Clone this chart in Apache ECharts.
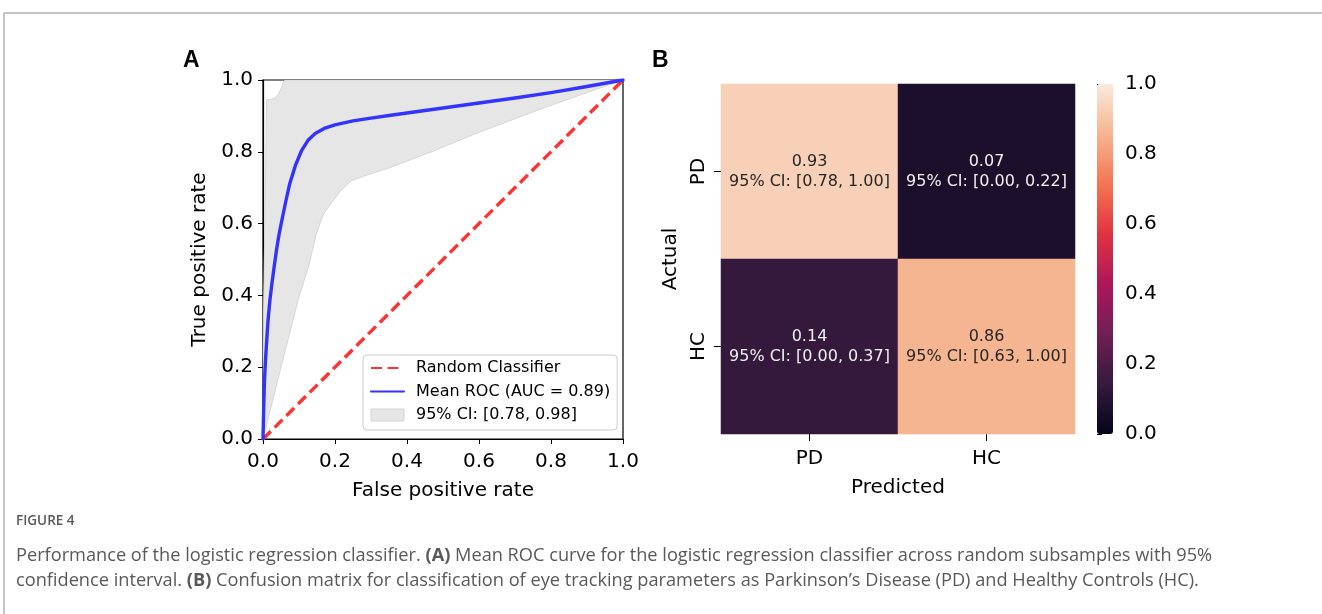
<!DOCTYPE html>
<html>
<head>
<meta charset="utf-8">
<script src="https://cdn.jsdelivr.net/npm/echarts@6/dist/echarts.min.js"></script>
<style>
html,body{margin:0;padding:0;background:#fff;}
#c{width:1322px;height:614px;}
</style>
</head>
<body>
<div id="c"></div>
<script>
// ---- Panel A: ROC data ----
const meanFpr = [0, 0.002, 0.004, 0.007, 0.010, 0.014, 0.019, 0.025, 0.031, 0.038, 0.045, 0.054, 0.064, 0.074, 0.09, 0.107, 0.125, 0.145, 0.17, 0.2, 0.25, 0.3, 0.35, 0.42, 0.5, 0.6, 0.7, 0.8, 0.9, 1.0];
const meanTpr = [0, 0.09, 0.16, 0.22, 0.27, 0.33, 0.385, 0.435, 0.48, 0.53, 0.572, 0.617, 0.665, 0.71, 0.762, 0.803, 0.832, 0.851, 0.865, 0.875, 0.886, 0.894, 0.901, 0.911, 0.922, 0.936, 0.950, 0.965, 0.982, 1.0];
const upperFpr = [0, 0.0101, 0.022, 0.0325, 0.042, 0.051, 0.058, 0.062, 1.0];
const upperTpr = [0.25, 0.945, 0.946, 0.95, 0.959, 0.978, 0.997, 1.0, 1.0];
const lowerFpr = [0, 0.05, 0.097, 0.126, 0.148, 0.165, 0.171, 0.195, 0.216, 0.245, 0.282, 0.35, 0.463, 0.602, 0.787, 1.0];
const lowerTpr = [0, 0.2, 0.386, 0.479, 0.571, 0.62, 0.631, 0.664, 0.692, 0.719, 0.733, 0.755, 0.798, 0.855, 0.925, 1.0];
const chanceFpr = [0, 1];
const chanceTpr = [0, 1];

// ---- Panel B: confusion matrix ----
const predictedCats = ['PD', 'HC'];
const actualCats = ['PD', 'HC'];
const cmValues = [[0.93, 0.07], [0.14, 0.86]];   // rows = actual, cols = predicted
const cmLow = [[0.78, 0.00], [0.00, 0.63]];
const cmHigh = [[1.00, 0.22], [0.37, 1.00]];
const rocket = ['#03051a', '#35193e', '#701f57', '#ad1759', '#e13342', '#f37651', '#f6b48f', '#faebdd'];

const FONT = 'DejaVu Sans';

const meanData = meanFpr.map((x, i) => [x, meanTpr[i]]);
const chanceData = chanceFpr.map((x, i) => [x, chanceTpr[i]]);
const heatData = [];
actualCats.forEach((a, r) => {
  predictedCats.forEach((p, c) => {
    const v = cmValues[r][c];
    heatData.push({
      value: [c, r, v, cmLow[r][c], cmHigh[r][c]],
      label: { color: v > 0.5 ? '#262626' : '#f0f0f0' }
    });
  });
});

const chart = echarts.init(document.getElementById('c'), null, { renderer: 'canvas' });

const capRich = {
  n: { fontFamily: 'Open Sans', fontWeight: 'normal', fontSize: 18.2, color: '#595959' },
  b: { fontFamily: 'Open Sans', fontWeight: 'bold', fontSize: 18.2, color: '#595959' }
};

const option = {
  animation: false,
  backgroundColor: '#ffffff',
  title: [
    { text: 'A', left: 183, top: 49, padding: 0, textStyle: { fontFamily: 'Liberation Sans', fontWeight: 'bold', fontSize: 23, color: '#000' } },
    { text: 'B', left: 652, top: 49, padding: 0, textStyle: { fontFamily: 'Liberation Sans', fontWeight: 'bold', fontSize: 23, color: '#000' } },
    { text: 'FIGURE 4', left: 16, top: 514, padding: 0, textStyle: { fontFamily: 'Open Sans', fontWeight: 600, fontSize: 13.5, color: '#595959' } },
    { text: '{n|Performance of the logistic regression classifier. }{b|(A)}{n| Mean ROC curve for the logistic regression classifier across random subsamples with 95%}',
      left: 16, top: 547, padding: 0, textStyle: { fontWeight: 'normal', rich: capRich } },
    { text: '{n|confidence interval. }{b|(B)}{n| Confusion matrix for classification of eye tracking parameters as Parkinson\u2019s Disease (PD) and Healthy Controls (HC).}',
      left: 16, top: 572, padding: 0, textStyle: { fontWeight: 'normal', rich: capRich } }
  ],
  graphic: [
    { type: 'line', shape: { x1: 4, y1: 13, x2: 1322, y2: 13 }, style: { stroke: '#b0b0b0', lineWidth: 1.5 } },
    { type: 'line', shape: { x1: 4, y1: 13, x2: 4, y2: 614 }, style: { stroke: '#b0b0b0', lineWidth: 1.5 } }
  ],
  legend: {
    orient: 'vertical',
    left: 363, top: 355,
    padding: [5, 7, 7, 7],
    itemGap: 7.5,
    itemWidth: 33,
    itemHeight: 12,
    backgroundColor: 'rgba(255,255,255,0.8)',
    borderColor: '#cccccc',
    borderWidth: 1,
    borderRadius: 4,
    textStyle: { fontFamily: FONT, fontSize: 16, color: '#000', padding: [0, 0, 0, 7] },
    data: [
      { name: 'Random Classifier', itemStyle: { opacity: 0 } },
      { name: 'Mean ROC (AUC = 0.89)', itemStyle: { opacity: 0 } },
      { name: '95% CI: [0.78, 0.98]', icon: 'rect', itemStyle: { color: '#e6e6e6', borderColor: '#d4d4d4', borderWidth: 1 } }
    ]
  },
  visualMap: {
    type: 'continuous',
    min: 0, max: 1,
    dimension: 2,
    seriesIndex: 3,
    calculable: false,
    hoverLink: false,
    left: 1097, top: 84,
    padding: 0,
    itemWidth: 16,
    itemHeight: 350,
    text: null,
    showLabel: false,
    inRange: { color: rocket }
  },
  grid: [
    { left: 263, top: 80, width: 360, height: 359, show: true, borderColor: '#000', borderWidth: 1.2, backgroundColor: 'transparent' },
    { left: 721, top: 84, width: 354, height: 350 },
    { left: 1097, top: 84, width: 16, height: 350 }
  ],
  xAxis: [
    {
      gridIndex: 0, type: 'value', min: 0, max: 1, interval: 0.2,
      name: 'False positive rate', nameLocation: 'middle', nameGap: 42,
      nameTextStyle: { fontFamily: FONT, fontSize: 20, color: '#000' },
      axisLine: { show: true, onZero: false, lineStyle: { color: '#000', width: 1.2 } },
      axisTick: { show: true, length: 5, lineStyle: { color: '#000' } },
      axisLabel: { fontFamily: FONT, fontSize: 20, color: '#000', margin: 13, formatter: v => v.toFixed(1) },
      splitLine: { show: false }
    },
    {
      gridIndex: 1, type: 'category', data: predictedCats,
      name: 'Predicted', nameLocation: 'middle', nameGap: 44,
      nameTextStyle: { fontFamily: FONT, fontSize: 20, color: '#000' },
      axisLine: { show: false },
      axisTick: { show: true, alignWithLabel: true, length: 7, lineStyle: { color: '#000' } },
      axisLabel: { fontFamily: FONT, fontSize: 20, color: '#000', margin: 15 },
      splitLine: { show: false }, splitArea: { show: false }
    },
    { gridIndex: 2, type: 'value', min: 0, max: 1, show: false }
  ],
  yAxis: [
    {
      gridIndex: 0, type: 'value', min: 0, max: 1, interval: 0.2,
      name: 'True positive rate', nameLocation: 'middle', nameGap: 53,
      nameTextStyle: { fontFamily: FONT, fontSize: 20, color: '#000' },
      axisLine: { show: true, onZero: false, lineStyle: { color: '#000', width: 1.2 } },
      axisTick: { show: true, length: 5, lineStyle: { color: '#000' } },
      axisLabel: { fontFamily: FONT, fontSize: 20, color: '#000', margin: 10, formatter: v => v.toFixed(1) },
      splitLine: { show: false }
    },
    {
      gridIndex: 1, type: 'category', data: actualCats, inverse: true,
      name: 'Actual', nameLocation: 'middle', nameGap: 40,
      nameTextStyle: { fontFamily: FONT, fontSize: 20, color: '#000' },
      axisLine: { show: false },
      axisTick: { show: true, alignWithLabel: true, length: 7, lineStyle: { color: '#000' } },
      axisLabel: { fontFamily: FONT, fontSize: 20, color: '#000', rotate: 90, margin: 12 },
      splitLine: { show: false }, splitArea: { show: false }
    },
    {
      gridIndex: 2, type: 'value', min: 0, max: 1, interval: 0.2, position: 'right',
      axisLine: { show: false },
      axisTick: { show: true, length: 5, lineStyle: { color: '#000' } },
      axisLabel: { fontFamily: FONT, fontSize: 20, color: '#000', margin: 12, padding: [3, 0, 0, 0], formatter: v => v.toFixed(1) },
      splitLine: { show: false }
    }
  ],
  series: [
    {
      name: '95% CI: [0.78, 0.98]',
      type: 'custom',
      xAxisIndex: 0, yAxisIndex: 0,
      z: 1,
      itemStyle: { color: '#e6e6e6' },
      data: [0],
      renderItem: function (params, api) {
        const pts = [];
        for (let i = 0; i < upperFpr.length; i++) pts.push(api.coord([upperFpr[i], upperTpr[i]]));
        for (let i = lowerFpr.length - 1; i >= 0; i--) pts.push(api.coord([lowerFpr[i], lowerTpr[i]]));
        return {
          type: 'polygon',
          shape: { points: pts, smooth: 0 },
          style: { fill: '#e6e6e6', stroke: '#d6d6d6', lineWidth: 1 },
          clipPath: { type: 'rect', shape: { x: params.coordSys.x, y: params.coordSys.y, width: params.coordSys.width, height: params.coordSys.height } }
        };
      }
    },
    {
      name: 'Random Classifier',
      type: 'line',
      xAxisIndex: 0, yAxisIndex: 0,
      data: chanceData,
      symbol: 'none',
      z: 3,
      lineStyle: { color: '#ff3333', width: 3.4, type: [11, 5.5] },
      itemStyle: { color: '#ff3333' }
    },
    {
      name: 'Mean ROC (AUC = 0.89)',
      type: 'line',
      xAxisIndex: 0, yAxisIndex: 0,
      data: meanData,
      symbol: 'none',
      smooth: false,
      z: 4,
      lineStyle: { color: '#3333ff', width: 3.4, join: 'round', cap: 'round' },
      itemStyle: { color: '#3333ff' }
    },
    {
      name: 'cm',
      type: 'heatmap',
      xAxisIndex: 1, yAxisIndex: 1,
      data: heatData,
      itemStyle: { borderWidth: 0 },
      label: {
        show: true,
        fontFamily: FONT,
        fontSize: 16,
        lineHeight: 20,
        formatter: p => p.value[2].toFixed(2) + '\n95% CI: [' + p.value[3].toFixed(2) + ', ' + p.value[4].toFixed(2) + ']'
      },
      emphasis: { disabled: true }
    }
  ]
};
chart.setOption(option);
</script>
</body>
</html>
